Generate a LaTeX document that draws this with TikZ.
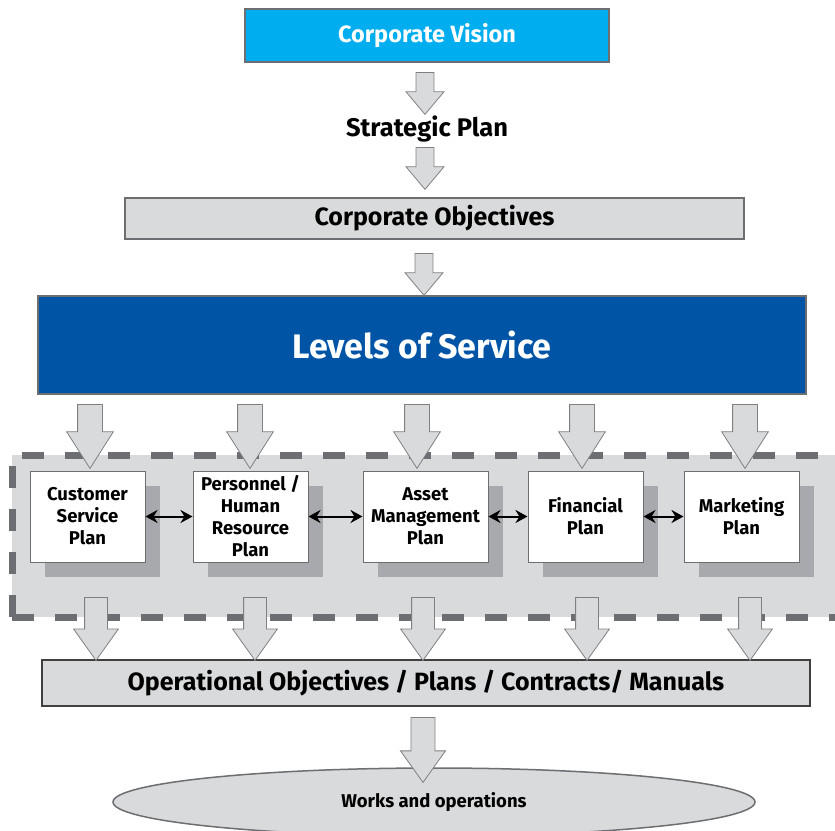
\documentclass[tikz,border=0pt]{standalone}
\usepackage{fontspec}
\setmainfont{Fira Sans}
\usetikzlibrary{shapes,arrows,arrows.meta,positioning,shadows}

\definecolor{visionblue}{RGB}{0,174,239}
\definecolor{serviceblue}{RGB}{0,84,166}
\definecolor{boxgray}{RGB}{217,218,219}
\definecolor{edgegray}{RGB}{109,110,113}
\definecolor{shadowgray}{RGB}{167,169,172}
\definecolor{arrowedge}{RGB}{128,128,130}

\begin{document}
\begin{tikzpicture}[
    x=1pt, y=-1pt,
    font=\bfseries\fontsize{25}{28}\selectfont,
    box/.style={rectangle, draw=edgegray, line width=2pt, inner sep=0pt, align=center},
    plan/.style={box, fill=white, line width=1pt, minimum width=115, minimum height=91,
        drop shadow={shadow xshift=15pt, shadow yshift=-15pt, fill=shadowgray, opacity=1},
        font=\bfseries\fontsize{18.5}{22}\selectfont},
    blockarrow/.style={single arrow, draw=arrowedge, fill=boxgray, line width=0.8pt,
        inner xsep=0pt, rotate=-90, anchor=tail},
    smallarrow/.style={blockarrow, minimum height=42, minimum width=38, inner ysep=8.5pt,
        single arrow head extend=10, single arrow tip angle=80},
    bigarrow/.style={blockarrow, minimum height=64, minimum width=46, inner ysep=12pt,
        single arrow head extend=11, single arrow tip angle=65},
    lowarrow/.style={blockarrow, minimum height=63, minimum width=44, inner ysep=11pt,
        single arrow head extend=11, single arrow tip angle=71},
    link/.style={<->, >={Stealth[length=12pt,width=13pt]}, line width=2pt}
]
\useasboundingbox (0,0) rectangle (835,830);

% Top of the chain
\node[box, fill=visionblue, minimum width=364, minimum height=53, text=white,
    font=\bfseries\fontsize{23.5}{26}\selectfont] (vision) at (427,35.5) {Corporate Vision};
\node[font=\bfseries\fontsize{25.5}{28}\selectfont] (strategy) at (427,129) {Strategic Plan};
\node[box, fill=boxgray, minimum width=619, minimum height=41] (objectives) at (434.5,218.5) {Corporate Objectives};
\node[box, fill=serviceblue, minimum width=768, minimum height=98, text=white,
    font=\bfseries\fontsize{34}{38}\selectfont] (service) at (422,345) {Levels of Service};

\node[smallarrow] (a1) at (425,72) {};
\node[smallarrow] (a2) at (425,147) {};
\node[smallarrow] (a3) at (424,253) {};

% Planning band
\node[draw=edgegray, fill=boxgray, line width=7pt, dash pattern=on 22pt off 21pt,
    minimum width=838, minimum height=162] (band) at (431,536) {};

\node[plan] (customer) at (87.5,516.5) {Customer\\Service\\Plan};
\node[plan] (personnel) at (250.5,516.5) {Personnel /\\Human\\Resource\\Plan};
\node[plan, minimum width=125] (asset) at (425.5,516.5) {Asset\\Management\\Plan};
\node[plan] (financial) at (585.5,516.5) {Financial\\Plan};
\node[plan] (marketing) at (741.5,516.5) {Marketing\\Plan};

\foreach \a/\b in {customer/personnel, personnel/asset, asset/financial, financial/marketing}
    \draw[link] (\a) -- (\b);

\foreach \x [count=\i] in {90,250,417,582,745}
    \node[bigarrow] (in\i) at (\x,404) {};

% Bottom of the chain
\node[box, fill=boxgray, draw=black!75, minimum width=768, minimum height=46] (operational) at (426,683)
    {Operational Objectives / Plans / Contracts/ Manuals};

\foreach \x [count=\i] in {96,255,423,587,750}
    \node[lowarrow] (out\i) at (\x,597) {};

\node[ellipse, draw=edgegray, line width=1.5pt, fill=boxgray, minimum width=642, minimum height=68,
    font=\bfseries\fontsize{18.5}{22}\selectfont] (works) at (434,802) {Works and operations};
\node[lowarrow, minimum height=65, minimum width=45, single arrow head extend=10] (a4) at (423,717) {};

\end{tikzpicture}
\end{document}
